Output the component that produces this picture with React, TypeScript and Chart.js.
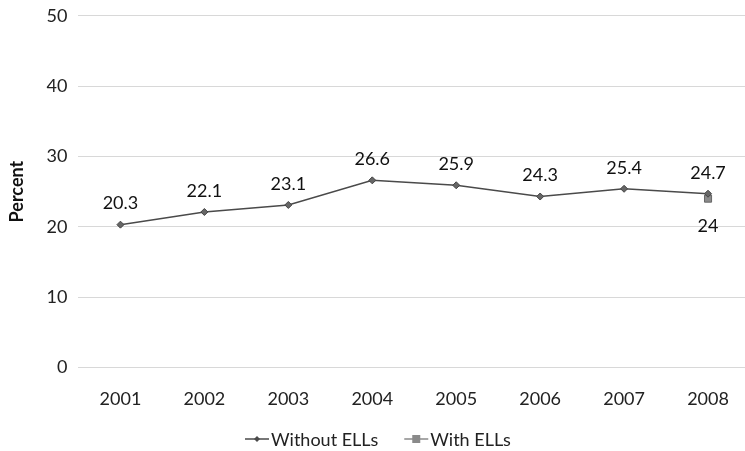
import React, { useEffect, useRef } from "react";
import { Chart, registerables } from "chart.js";

Chart.register(...registerables);

const years = ["2001", "2002", "2003", "2004", "2005", "2006", "2007", "2008"];
const withoutElls = [20.3, 22.1, 23.1, 26.6, 25.9, 24.3, 25.4, 24.7];
const withElls: (number | null)[] = [null, null, null, null, null, null, null, 24];
const seriesNames = ["Without ELLs", "With ELLs"];
const yTicks = [0, 10, 20, 30, 40, 50];

const FONT = "Lato, 'Open Sans', sans-serif";
const LINE = "#4a4a4a";
const GRAY = "#8a8a8a";
const SHIFT = 6; // canvas drawn slightly above the page top

// Value labels: above the points of the first series, below the second
const valueLabels = {
  id: "valueLabels",
  afterDatasetsDraw(chart: any) {
    const ctx = chart.ctx;
    ctx.save();
    ctx.font = `18px ${FONT}`;
    ctx.fillStyle = "#111";
    ctx.textAlign = "center";
    ctx.textBaseline = "middle";
    chart.data.datasets.forEach((ds: any, di: number) => {
      const meta = chart.getDatasetMeta(di);
      meta.data.forEach((pt: any, i: number) => {
        const v = ds.data[i];
        if (v == null) return;
        const dy = di === 0 ? -21 : 28;
        ctx.fillText(String(v), pt.x, pt.y + dy);
      });
    });
    ctx.restore();
  },
};

// Legend: short line with marker, then series name
const lineLegend = {
  id: "lineLegend",
  afterDraw(chart: any) {
    const ctx = chart.ctx;
    ctx.save();
    ctx.font = `18px ${FONT}`;
    ctx.textBaseline = "middle";
    const y = 439 + SHIFT;
    const lineW = 24;
    const gap = 2;
    const itemGap = 26;
    let x = 245;
    seriesNames.forEach((name, i) => {
      ctx.strokeStyle = i === 0 ? LINE : GRAY;
      ctx.lineWidth = 1.5;
      ctx.beginPath();
      ctx.moveTo(x, y);
      ctx.lineTo(x + lineW, y);
      ctx.stroke();
      const cx = x + lineW / 2;
      if (i === 0) {
        ctx.fillStyle = LINE;
        ctx.beginPath();
        ctx.moveTo(cx, y - 3);
        ctx.lineTo(cx + 3, y);
        ctx.lineTo(cx, y + 3);
        ctx.lineTo(cx - 3, y);
        ctx.closePath();
        ctx.fill();
      } else {
        ctx.fillStyle = GRAY;
        ctx.fillRect(cx - 4, y - 4, 8, 8);
      }
      ctx.fillStyle = "#222";
      ctx.textAlign = "left";
      ctx.fillText(name, x + lineW + gap, y + 1);
      x += lineW + gap + ctx.measureText(name).width + itemGap;
    });
    ctx.restore();
  },
};

export default function App() {
  const ref = useRef<HTMLCanvasElement>(null);

  useEffect(() => {
    if (!ref.current) return;
    const chart = new Chart(ref.current, {
      type: "line",
      data: {
        labels: years,
        datasets: [
          {
            label: seriesNames[0],
            data: withoutElls,
            borderColor: LINE,
            backgroundColor: LINE,
            borderWidth: 1.5,
            pointStyle: "rectRot",
            pointRadius: 3.5,
            pointBackgroundColor: "#666",
            pointBorderColor: "#444",
            pointBorderWidth: 1,
            tension: 0,
          },
          {
            label: seriesNames[1],
            data: withElls,
            borderColor: GRAY,
            backgroundColor: GRAY,
            pointStyle: "rect",
            pointRadius: 5,
            pointBackgroundColor: GRAY,
            pointBorderColor: "#666",
            pointBorderWidth: 1,
          },
        ],
      },
      options: {
        responsive: false,
        animation: false,
        layout: { padding: { left: 6, right: 42, top: 4, bottom: 28 } },
        plugins: {
          legend: { display: false },
          tooltip: { enabled: false },
        },
        scales: {
          x: {
            offset: true,
            grid: { display: false },
            border: { display: false },
            ticks: { font: { size: 18, family: FONT }, color: "#222", padding: 13 },
          },
          y: {
            min: 0,
            max: 50,
            afterBuildTicks: (axis: any) => {
              axis.ticks = yTicks.map((v) => ({ value: v }));
            },
            grid: { color: "#d8d8d8", drawTicks: false },
            border: { display: false },
            ticks: { font: { size: 18, family: FONT }, color: "#222", padding: 11 },
            title: {
              display: true,
              text: "Percent",
              font: { size: 18, weight: "bold", family: FONT },
              color: "#111",
              padding: { top: 0, bottom: 8 },
            },
          },
        },
      },
      plugins: [valueLabels, lineLegend],
    });
    return () => chart.destroy();
  }, []);

  return (
    <div
      style={{
        position: "fixed",
        left: 0,
        top: 0,
        width: 745,
        height: 451,
        overflow: "hidden",
        background: "#fff",
      }}
    >
      <canvas
        ref={ref}
        width={792}
        height={451 + SHIFT}
        style={{ display: "block", marginTop: -SHIFT }}
      />
    </div>
  );
}
